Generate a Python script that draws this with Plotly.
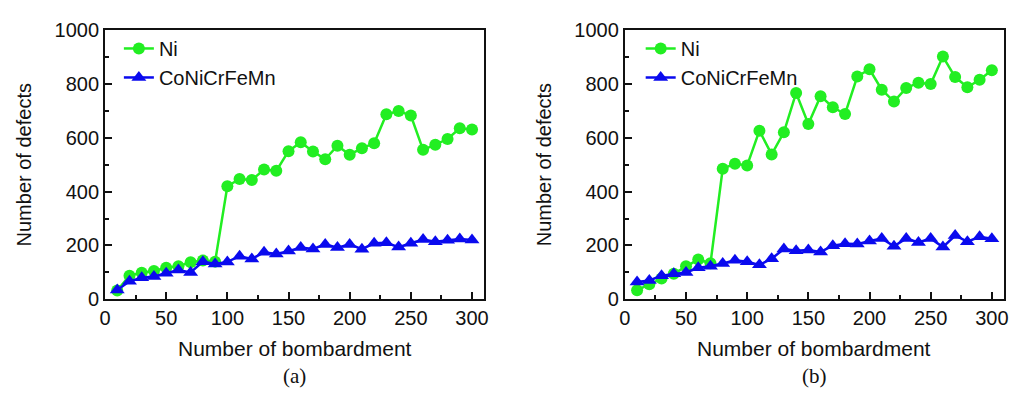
import plotly.graph_objects as go

bombardment = [10, 20, 30, 40, 50, 60, 70, 80, 90, 100,
               110, 120, 130, 140, 150, 160, 170, 180, 190, 200,
               210, 220, 230, 240, 250, 260, 270, 280, 290, 300]

# Panel (a)
ni_a = [33, 88, 99, 105, 117, 123, 138, 144, 140, 420,
        447, 443, 482, 477, 550, 583, 549, 520, 570, 537,
        561, 579, 687, 699, 682, 555, 574, 595, 635, 630]
hea_a = [35, 67, 80, 85, 97, 109, 100, 140, 131, 139,
         160, 150, 175, 168, 179, 192, 187, 204, 192, 204,
         186, 208, 210, 194, 208, 222, 214, 219, 224, 220]

# Panel (b)
ni_b = [34, 56, 77, 95, 123, 148, 134, 485, 503, 497,
        626, 538, 620, 766, 651, 754, 713, 688, 827, 854,
        778, 734, 784, 804, 799, 901, 825, 787, 815, 850]
hea_b = [64, 70, 88, 95, 100, 117, 123, 133, 145, 140,
         128, 151, 187, 180, 183, 176, 199, 206, 205, 217,
         226, 197, 226, 211, 226, 194, 237, 214, 232, 225]

x_ticks = [0, 50, 100, 150, 200, 250, 300]
y_ticks = [0, 200, 400, 600, 800, 1000]

GREEN = "#22ee22"
BLUE = "#0a0aee"
W, H = 1016, 403

fig = go.Figure()

def add_panel(xref, yref, ni, hea, legend):
    fig.add_trace(go.Scatter(
        x=bombardment, y=ni, mode="lines+markers", name="Ni",
        line=dict(color=GREEN, width=2.5),
        marker=dict(symbol="circle", size=12, color=GREEN),
        xaxis=xref, yaxis=yref, legend=legend))
    fig.add_trace(go.Scatter(
        x=bombardment, y=hea, mode="lines+markers", name="CoNiCrFeMn",
        line=dict(color=BLUE, width=2.5),
        marker=dict(symbol="triangle-up", size=13, color=BLUE),
        xaxis=xref, yaxis=yref, legend=legend))

add_panel("x", "y", ni_a, hea_a, "legend")
add_panel("x2", "y2", ni_b, hea_b, "legend2")

top = 1 - 20 / H
bot = 1 - 305 / H
dom_a = [100 / W, 483 / W]
dom_b = [625 / W, 1008 / W]

FONT = "Liberation Sans, Arial, sans-serif"
axis_font = dict(family=FONT, size=20, color="#111")

def xaxis(domain, anchor):
    return dict(domain=domain, anchor=anchor, range=[0, 310],
                tickvals=x_ticks, ticks="inside", ticklen=7, tickwidth=2,
                tickcolor="#111", showline=True, linecolor="#111", linewidth=2,
                mirror=True, showgrid=False, zeroline=False,
                tickfont=axis_font,
                minor=dict(tickvals=[25, 75, 125, 175, 225, 275], ticks="inside",
                           ticklen=4, tickwidth=1.5, tickcolor="#111", showgrid=False))

def yaxis(anchor):
    return dict(domain=[bot, top], anchor=anchor, range=[0, 1000],
                tickvals=y_ticks, ticks="inside", ticklen=7, tickwidth=2,
                tickcolor="#111", showline=True, linecolor="#111", linewidth=2,
                mirror=True, showgrid=False, zeroline=False,
                tickfont=axis_font,
                minor=dict(tickvals=[100, 300, 500, 700, 900], ticks="inside",
                           ticklen=4, tickwidth=1.5, tickcolor="#111", showgrid=False))

legend_common = dict(font=dict(family=FONT, size=20, color="#111"),
                     bgcolor="rgba(0,0,0,0)", borderwidth=0, tracegroupgap=0,
                     xanchor="left", yanchor="top", itemwidth=30)

fig.update_layout(
    width=W, height=H,
    margin=dict(l=0, r=0, t=0, b=0),
    paper_bgcolor="white", plot_bgcolor="white",
    xaxis=xaxis(dom_a, "y"),
    yaxis=yaxis("x"),
    xaxis2=xaxis(dom_b, "y2"),
    yaxis2=yaxis("x2"),
    legend=dict(x=114 / W, y=1 - 19 / H, **legend_common),
    legend2=dict(x=641 / W, y=1 - 19 / H, **legend_common),
    showlegend=True,
)

title_font = dict(family=FONT, size=21, color="#111")
label_font = dict(family="Liberation Serif, Times New Roman, serif", size=21, color="#111")
ymid = (top + bot) / 2
for cx, ytx, lab in [((dom_a[0] + dom_a[1]) / 2, 18 / W, "(a)"),
                     ((dom_b[0] + dom_b[1]) / 2, 543 / W, "(b)")]:
    fig.add_annotation(text="Number of bombardment", x=cx, y=1 - 357 / H,
                       xref="paper", yref="paper", xanchor="center", yanchor="middle",
                       showarrow=False, font=title_font)
    fig.add_annotation(text=lab, x=cx, y=1 - 386 / H,
                       xref="paper", yref="paper", xanchor="center", yanchor="middle",
                       showarrow=False, font=label_font)
    fig.add_annotation(text="Number of defects", x=ytx, y=ymid, textangle=-90,
                       xref="paper", yref="paper", xanchor="center", yanchor="middle",
                       showarrow=False, font=dict(family=FONT, size=20, color="#111"))

fig.write_html("out.html", config={"displayModeBar": False},
               post_script="document.body.style.margin='0';document.body.style.overflow='hidden';")
